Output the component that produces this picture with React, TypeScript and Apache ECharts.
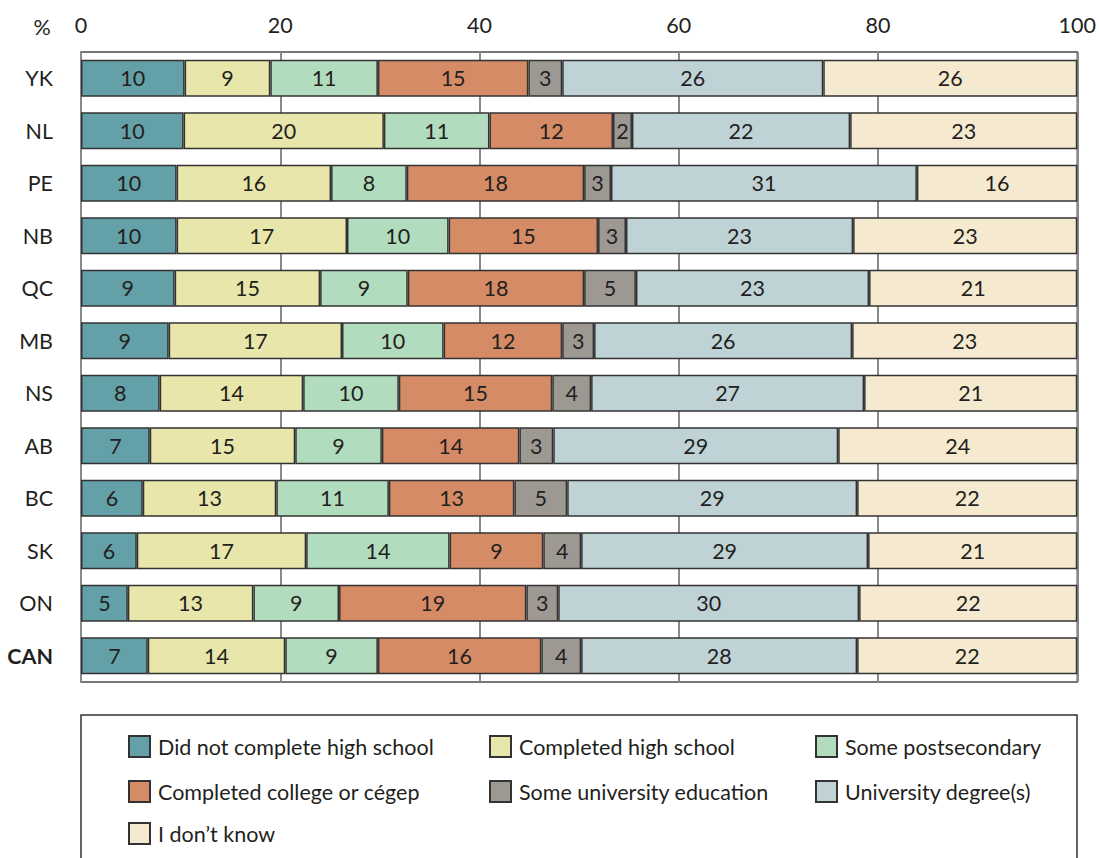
import React, { useEffect, useRef } from "react";
import * as echarts from "echarts";

const provinces = ["YK", "NL", "PE", "NB", "QC", "MB", "NS", "AB", "BC", "SK", "ON", "CAN"];
const xTicks = [0, 20, 40, 60, 80, 100];

const didNotComplete = [10.4, 10.3, 9.6, 9.6, 9.4, 8.8, 7.9, 6.9, 6.2, 5.6, 4.7, 6.7];
const completedHigh = [8.6, 20.1, 15.5, 17.1, 14.6, 17.4, 14.4, 14.6, 13.4, 17.0, 12.6, 13.8];
const somePostsecondary = [10.8, 10.6, 7.6, 10.2, 8.8, 10.2, 9.6, 8.7, 11.3, 14.4, 8.6, 9.3];
const completedCollege = [15.1, 12.4, 17.8, 15.0, 17.7, 11.9, 15.4, 13.8, 12.6, 9.4, 18.8, 16.4];
const someUniversity = [3.4, 1.9, 2.7, 2.8, 5.2, 3.2, 3.9, 3.4, 5.3, 3.8, 3.2, 4.0];
const universityDegree = [26.2, 21.9, 30.7, 22.8, 23.4, 25.9, 27.4, 28.6, 29.1, 28.8, 30.2, 27.7];
const dontKnow = [25.5, 22.8, 16.1, 22.5, 20.9, 22.6, 21.4, 24.0, 22.1, 21.0, 21.9, 22.1];

const seriesNames = [
  "Did not complete high school",
  "Completed high school",
  "Some postsecondary",
  "Completed college or cégep",
  "Some university education",
  "University degree(s)",
  "I don’t know",
];
const seriesData = [
  didNotComplete,
  completedHigh,
  somePostsecondary,
  completedCollege,
  someUniversity,
  universityDegree,
  dontKnow,
];
const colors = ["#64a0a7", "#e8e6aa", "#b2dcbe", "#d58b65", "#9e9893", "#bfd3d7", "#f5ead0"];

const FONT = "Lato";
const FS = 21.5;
const TEXT = "#231f20";

// legend placement: [left, top]
const legendPos: [number, number][] = [
  [128, 735],
  [489, 735],
  [815, 735],
  [128, 780],
  [489, 780],
  [815, 780],
  [128, 822],
];

export default function App() {
  const ref = useRef<HTMLDivElement>(null);
  useEffect(() => {
    if (!ref.current) return;
    const chart = echarts.init(ref.current, null, { renderer: "svg" });
    chart.setOption({
      animation: false,
      backgroundColor: "#ffffff",
      textStyle: { fontFamily: FONT },
      grid: {
        left: 81,
        right: 19,
        top: 52,
        bottom: 176,
        show: true,
        borderColor: "#4a4a4a",
        borderWidth: 1.5,
        backgroundColor: "transparent",
      },
      xAxis: {
        type: "value",
        position: "top",
        min: 0,
        max: 100,
        interval: 20,
        axisLine: { show: false },
        axisTick: { show: false },
        axisLabel: {
          margin: 16,
          fontSize: FS,
          color: TEXT,
          fontFamily: FONT,
          formatter: (v: number) => (xTicks.includes(v) ? String(v) : ""),
        },
        splitLine: { show: true, lineStyle: { color: "#8a8a8a", width: 2 } },
      },
      yAxis: {
        type: "category",
        inverse: true,
        data: provinces,
        axisLine: { show: false },
        axisTick: { show: false },
        axisLabel: {
          margin: 28,
          fontSize: FS,
          color: TEXT,
          fontFamily: FONT,
          formatter: (v: string) => (v === "CAN" ? "{b|" + v + "}" : v),
          rich: {
            b: { fontSize: FS, fontWeight: "bold", color: TEXT, fontFamily: FONT },
          },
        },
      },
      legend: seriesNames.map((name, i) => ({
        data: [name],
        left: legendPos[i][0],
        top: legendPos[i][1],
        itemWidth: 21,
        itemHeight: 21,
        itemGap: 0,
        padding: 0,
        icon: "rect",
        selectedMode: false,
        textStyle: {
          fontSize: FS,
          color: TEXT,
          fontFamily: FONT,
          padding: [0, 0, 0, 3],
        },
      })),
      graphic: [
        {
          type: "rect",
          shape: { x: 81, y: 715, width: 996, height: 170 },
          style: { fill: "none", stroke: "#333", lineWidth: 1.5 },
          z: -1,
        },
        {
          type: "text",
          x: 42,
          y: 27,
          style: {
            text: "%",
            fontSize: FS,
            fontFamily: FONT,
            fill: TEXT,
            align: "center",
            verticalAlign: "middle",
          },
        },
      ],
      series: seriesNames.map((name, i) => ({
        name,
        type: "bar",
        stack: "total",
        barWidth: 37,
        data: seriesData[i],
        itemStyle: { color: colors[i], borderColor: "#333333", borderWidth: 1.5 },
        label: {
          show: true,
          position: "inside",
          fontSize: FS,
          fontFamily: FONT,
          color: TEXT,
          formatter: (p: any) => String(Math.round(p.value)),
        },
      })),
    });
    return () => chart.dispose();
  }, []);
  return (
    <div
      ref={ref}
      style={{ position: "fixed", left: 0, top: 0, width: 1099, height: 858 }}
    />
  );
}
